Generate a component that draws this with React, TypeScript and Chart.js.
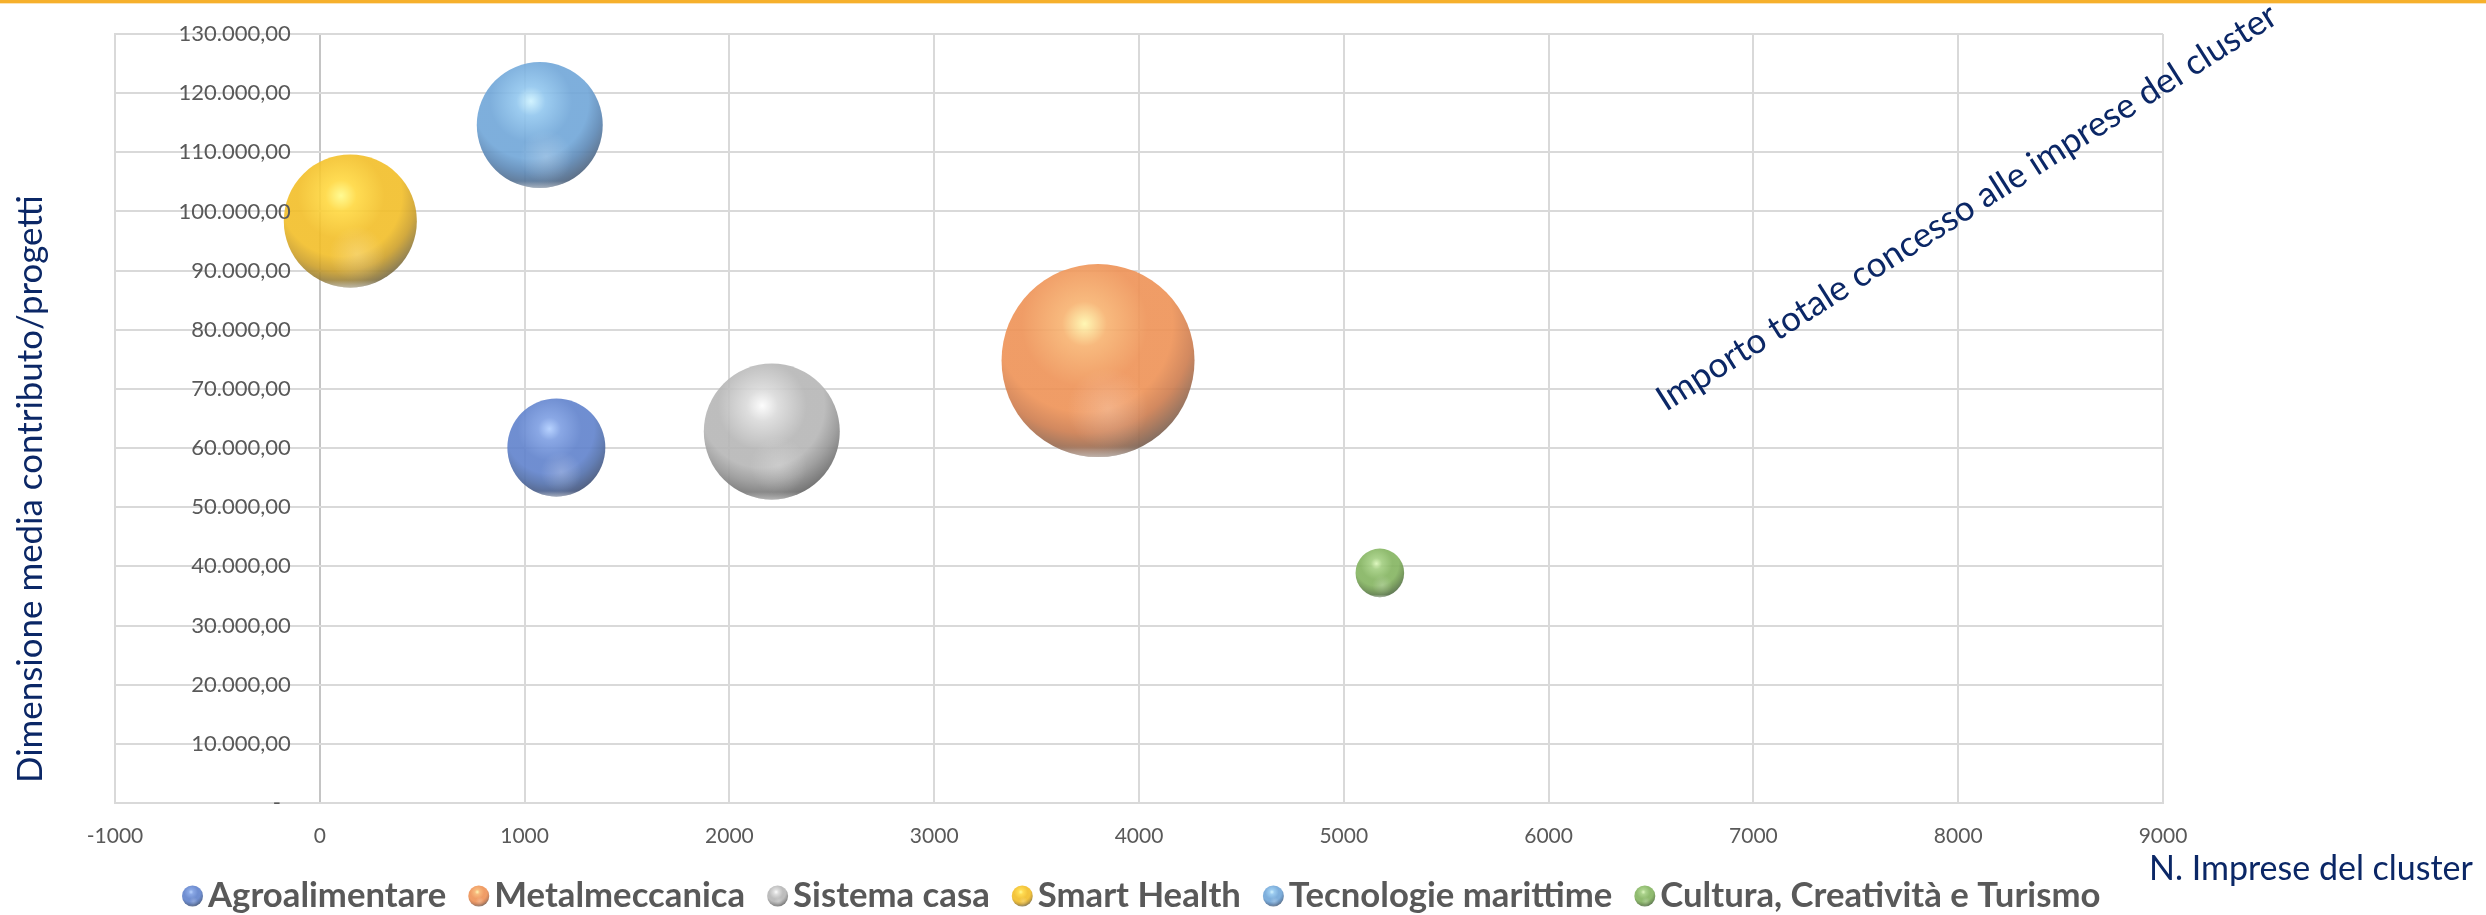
import React, { useEffect, useRef } from 'react';
import { Chart, registerables } from 'chart.js';

Chart.register(...registerables);

// ---------- DATA ----------
const categories = [
  'Agroalimentare',
  'Metalmeccanica',
  'Sistema casa',
  'Smart Health',
  'Tecnologie marittime',
  'Cultura, Creatività e Turismo',
];
// N. Imprese del cluster (x)
const nImprese = [1155, 3800, 2207, 149, 1074, 5176];
// Dimensione media contributo/progetti (y)
const dimensioneMedia = [60100, 74800, 62800, 98400, 114600, 38900];
// Importo totale concesso alle imprese del cluster (bubble size, milioni €)
const importoTotale = [73.2, 284, 141, 135, 121, 18];

const xMin = -1000;
const xMax = 9000;
const xStep = 1000;
const yMin = 0;
const yMax = 130000;
const yStep = 10000;

const yAxisTitle = 'Dimensione media contributo/progetti';
const xAxisTitle = 'N. Imprese del cluster';
const sizeTitle = 'Importo totale concesso alle imprese del cluster';

// ---------- STYLE ----------
const W = 2486;
const H = 915;
const MAX_RADIUS = 96.5;
const FONT = 'Lato, "Open Sans", "Noto Sans", sans-serif';
const NAVY = '#0b2766';
const TICK_COLOR = '#595959';
const GRID = '#d9d9d9';

type Pal = { hi: number[]; light: number[]; base: number[]; mid: number[]; dark: number[] };
const palettes: Pal[] = [
  { hi: [175, 205, 255], light: [125, 158, 226], base: [96, 130, 204], mid: [82, 112, 172], dark: [64, 80, 116] },
  { hi: [255, 246, 172], light: [247, 178, 112], base: [238, 146, 86], mid: [205, 124, 78], dark: [118, 94, 80] },
  { hi: [252, 252, 252], light: [218, 218, 218], base: [182, 182, 182], mid: [150, 150, 150], dark: [100, 100, 100] },
  { hi: [255, 250, 135], light: [255, 216, 64], base: [242, 190, 40], mid: [205, 160, 42], dark: [118, 106, 70] },
  { hi: [205, 242, 255], light: [145, 198, 238], base: [112, 166, 216], mid: [92, 136, 182], dark: [76, 96, 122] },
  { hi: [218, 246, 184], light: [162, 206, 128], base: [132, 180, 96], mid: [110, 150, 80], dark: [80, 106, 68] },
];

const rgba = (c: number[], a: number) => `rgba(${c[0]},${c[1]},${c[2]},${a})`;

function sphereGradient(ctx: CanvasRenderingContext2D, cx: number, cy: number, r: number, p: Pal) {
  const fx = cx - 0.14 * r;
  const fy = cy - 0.38 * r;
  const g = ctx.createRadialGradient(fx, fy, 0, fx, fy, 1.45 * r);
  const a = 0.9;
  g.addColorStop(0, rgba(p.hi, a));
  g.addColorStop(0.16, rgba(p.light, a));
  g.addColorStop(0.45, rgba(p.base, a));
  g.addColorStop(0.63, rgba(p.base, a));
  g.addColorStop(0.78, rgba(p.mid, a));
  g.addColorStop(0.97, rgba(p.dark, a));
  g.addColorStop(1, rgba(p.dark, a));
  return g;
}

function sphereOverlay(ctx: CanvasRenderingContext2D, x: number, y: number, r: number) {
  ctx.save();
  ctx.beginPath();
  ctx.arc(x, y, r, 0, Math.PI * 2);
  ctx.clip();
  const rg = ctx.createRadialGradient(x + 0.1 * r, y + 0.5 * r, 0, x + 0.1 * r, y + 0.5 * r, 0.42 * r);
  rg.addColorStop(0, 'rgba(255,255,255,0.22)');
  rg.addColorStop(1, 'rgba(255,255,255,0)');
  ctx.fillStyle = rg;
  ctx.fillRect(x - r, y - r, 2 * r, 2 * r);
  const lg = ctx.createLinearGradient(0, y + 0.6 * r, 0, y + r);
  lg.addColorStop(0, 'rgba(255,255,255,0)');
  lg.addColorStop(0.72, 'rgba(255,255,255,0)');
  lg.addColorStop(1, 'rgba(255,255,255,0.45)');
  ctx.fillStyle = lg;
  ctx.fillRect(x - r, y - r, 2 * r, 2 * r);
  ctx.restore();
}

const maxImporto = Math.max(...importoTotale);
const radiusFor = (v: number) => MAX_RADIUS * Math.sqrt(v / maxImporto);

function fmtIt(v: number) {
  if (v === 0) return '-';
  const s = Math.round(v).toString().replace(/\B(?=(\d{3})+(?!\d))/g, '.');
  return s + ',00';
}

function fitFont(ctx: CanvasRenderingContext2D, text: string, target: number, weight: string) {
  ctx.font = `${weight} 40px ${FONT}`;
  const w = ctx.measureText(text).width;
  return (40 * target) / w;
}

const decorPlugin = {
  id: 'decor',
  beforeDraw(chart: any) {
    const ctx: CanvasRenderingContext2D = chart.ctx;
    ctx.save();
    ctx.fillStyle = '#ffffff';
    ctx.fillRect(0, 0, W, H);
    ctx.fillStyle = '#f6b02c';
    ctx.fillRect(0, 0, W, 3);
    ctx.fillStyle = 'rgba(250,200,110,0.5)';
    ctx.fillRect(0, 3, W, 1);
    ctx.restore();
  },
  afterDatasetsDraw(chart: any) {
    const ctx: CanvasRenderingContext2D = chart.ctx;
    chart.data.datasets.forEach((_: any, di: number) => {
      const meta = chart.getDatasetMeta(di);
      meta.data.forEach((el: any) => {
        sphereOverlay(ctx, el.x, el.y, el.options.radius);
      });
    });
  },
  afterDraw(chart: any) {
    const ctx: CanvasRenderingContext2D = chart.ctx;
    const xs = chart.scales.x;
    const ys = chart.scales.y;
    ctx.save();
    // y tick labels at the x = 0 crossing
    const x0 = xs.getPixelForValue(0);
    ctx.font = `22px ${FONT}`;
    ctx.fillStyle = TICK_COLOR;
    ctx.textAlign = 'right';
    ctx.textBaseline = 'middle';
    ys.ticks.forEach((t: any) => {
      const py = ys.getPixelForValue(t.value);
      const label = String(t.label);
      if (label === '-') ctx.fillText(label, x0 - 39, py);
      else ctx.fillText(label, x0 - 29, py);
    });

    // y axis title
    ctx.fillStyle = NAVY;
    const yFs = fitFont(ctx, yAxisTitle, 588, 'normal');
    ctx.font = `${yFs}px ${FONT}`;
    ctx.save();
    ctx.translate(42, 783);
    ctx.rotate(-Math.PI / 2);
    ctx.textAlign = 'left';
    ctx.textBaseline = 'alphabetic';
    ctx.fillText(yAxisTitle, 0, 0);
    ctx.restore();

    // x axis title
    const xFs = fitFont(ctx, xAxisTitle, 324, 'normal');
    ctx.font = `${xFs}px ${FONT}`;
    ctx.textAlign = 'left';
    ctx.textBaseline = 'alphabetic';
    ctx.fillText(xAxisTitle, 2149, 880);

    // bubble size title (rotated)
    const sFs = fitFont(ctx, sizeTitle, 728, 'normal');
    ctx.font = `${sFs}px ${FONT}`;
    ctx.save();
    ctx.translate(1666, 412);
    ctx.rotate(-Math.atan2(392, 617));
    ctx.fillText(sizeTitle, 0, 0);
    ctx.restore();

    // legend
    const legLeft = 182;
    const legRight = 2101;
    const markerD = 21;
    const gapMT = 5;
    const gapItem = 22;
    ctx.font = `bold 40px ${FONT}`;
    const tw40 = categories.reduce((s, c) => s + ctx.measureText(c).width, 0);
    const fixed = categories.length * (markerD + gapMT) + (categories.length - 1) * gapItem;
    const lFs = (40 * (legRight - legLeft - fixed)) / tw40;
    ctx.font = `bold ${lFs}px ${FONT}`;
    ctx.textAlign = 'left';
    ctx.textBaseline = 'alphabetic';
    let lx = legLeft;
    const ly = 896;
    categories.forEach((c, i) => {
      const r = markerD / 2;
      const cx = lx + r;
      ctx.beginPath();
      ctx.arc(cx, ly, r, 0, Math.PI * 2);
      ctx.fillStyle = sphereGradient(ctx, cx, ly, r, palettes[i]);
      ctx.fill();
      sphereOverlay(ctx, cx, ly, r);
      lx += markerD + gapMT;
      ctx.fillStyle = TICK_COLOR;
      ctx.fillText(c, lx, 907);
      lx += ctx.measureText(c).width + gapItem;
    });
    ctx.restore();
  },
};

export default function App() {
  const ref = useRef<HTMLCanvasElement>(null);
  useEffect(() => {
    document.body.style.margin = '0';
    const canvas = ref.current;
    if (!canvas) return;
    const datasets = categories.map((label, i) => ({
      label,
      data: [{ x: nImprese[i], y: dimensioneMedia[i], r: radiusFor(importoTotale[i]) }],
      borderWidth: 0,
      hoverRadius: 0,
      clip: false as any,
      backgroundColor: (c: any) => {
        const chart = c.chart;
        const p = c.parsed;
        if (!p || !chart.chartArea) return rgba(palettes[i].base, 0.9);
        const cx = chart.scales.x.getPixelForValue(p.x);
        const cy = chart.scales.y.getPixelForValue(p.y);
        const r = c.raw && c.raw.r ? c.raw.r : 10;
        return sphereGradient(chart.ctx, cx, cy, r, palettes[i]);
      },
    }));
    const chart = new Chart(canvas, {
      type: 'bubble',
      data: { datasets },
      options: {
        responsive: false,
        animation: false,
        events: [],
        layout: { autoPadding: false, padding: { left: 115, right: 323, top: 34, bottom: 72 } },
        plugins: {
          legend: { display: false },
          tooltip: { enabled: false },
        },
        scales: {
          x: {
            type: 'linear',
            position: 'bottom',
            min: xMin,
            max: xMax,
            afterFit: (s: any) => {
              s.height = 40;
            },
            ticks: {
              stepSize: xStep,
              autoSkip: false,
              maxRotation: 0,
              padding: 21,
              color: TICK_COLOR,
              font: { family: FONT, size: 21 },
              callback: (v: any) => String(v),
            },
            grid: {
              color: (c: any) => (c.tick && c.tick.value === 0 ? '#c4c4c4' : GRID),
              lineWidth: 2,
              drawTicks: false,
            },
            border: { color: GRID, width: 2 },
          },
          y: {
            type: 'linear',
            min: yMin,
            max: yMax,
            afterFit: (s: any) => {
              s.width = 0;
            },
            ticks: {
              stepSize: yStep,
              display: false,
              callback: (v: any) => fmtIt(Number(v)),
            },
            grid: { color: GRID, lineWidth: 2, drawTicks: false },
            border: { color: GRID, width: 2 },
          },
        },
      },
      plugins: [decorPlugin],
    });
    return () => chart.destroy();
  }, []);
  return (
    <div style={{ width: W, height: H, position: 'relative' }}>
      <canvas ref={ref} width={W} height={H} style={{ width: W, height: H, display: 'block' }} />
    </div>
  );
}
